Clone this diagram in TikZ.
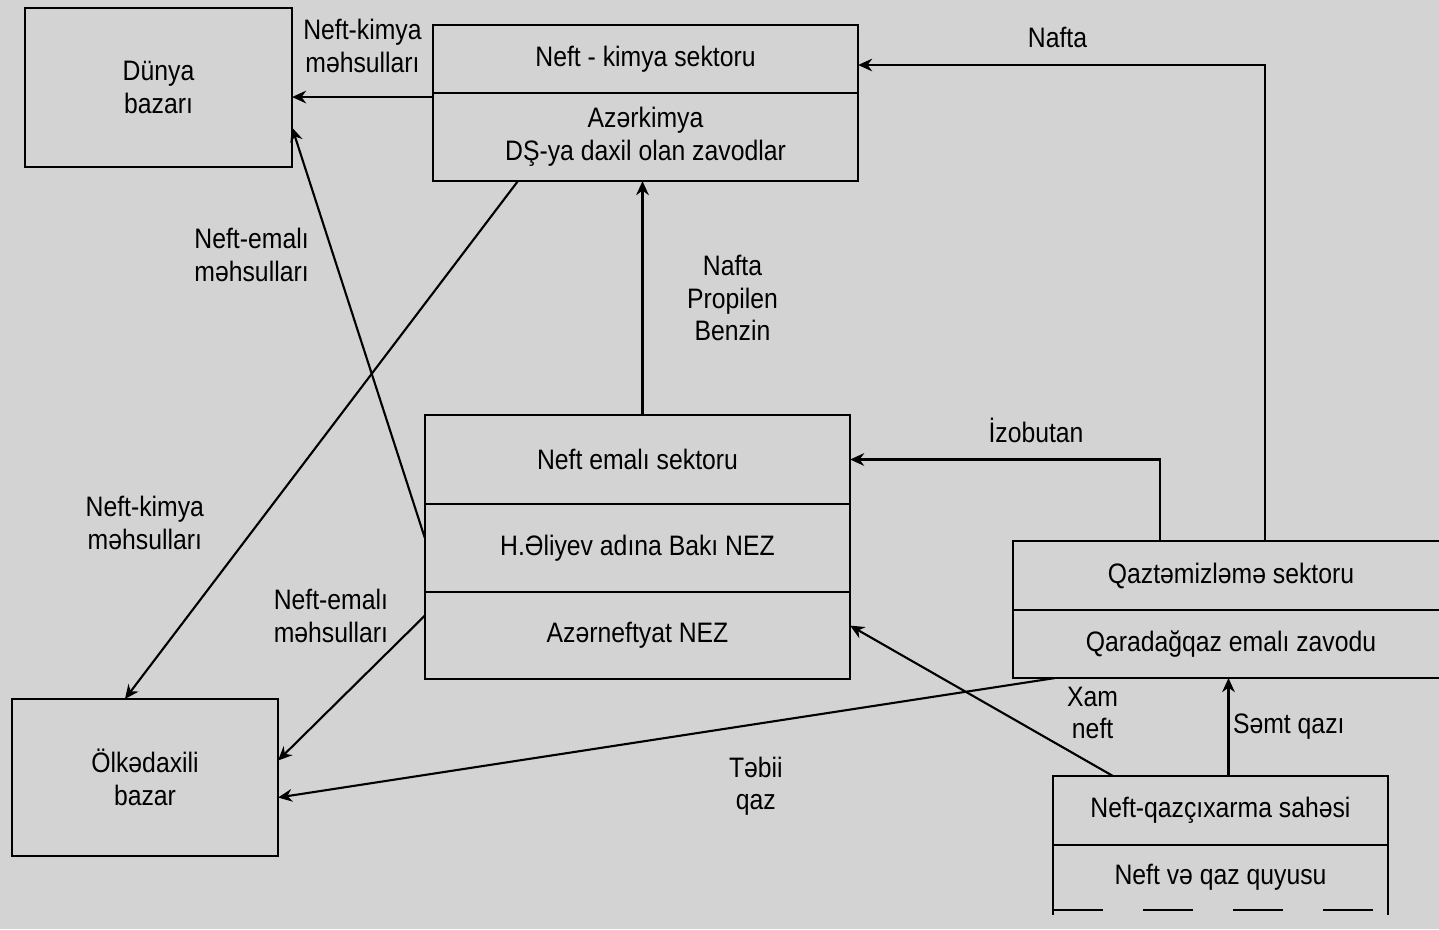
\documentclass[tikz,border=0pt]{standalone}
\usepackage{fontspec}
\setmainfont{Liberation Sans}[FakeStretch=0.88]
\usepackage{tikz}
\usetikzlibrary{arrows.meta, positioning}
\definecolor{scangray}{RGB}{211,211,211}

\begin{document}
\begin{tikzpicture}[
      x=0.01cm, y=-0.01cm,
      font=\fontsize{8}{9.3}\selectfont,
      box/.style = {draw, line width=0.7pt, outer sep=0pt, align=center},
      lbl/.style = {inner sep=1pt, align=center},
      arr/.style = {-{Stealth[length=4pt, width=3.6pt]}, semithick}
    ]
    \fill[scangray] (0,0) rectangle (1439,929);
    \useasboundingbox (0,0) rectangle (1439,929);

    % ---- markets (left) ----
    \node[box, minimum width=2.67cm, minimum height=1.59cm] (dunya) at (158.5,87.5) {Dünya\\bazarı};
    \node[box, minimum width=2.66cm, minimum height=1.57cm] (olke)  at (145,777.5)  {Ölkədaxili\\bazar};

    % ---- petrochemical sector ----
    \node[box, minimum width=4.25cm, minimum height=0.68cm] (kimya) at (645.5,59) {Neft - kimya sektoru};
    \node[box, minimum width=4.25cm, minimum height=0.88cm, below=0pt of kimya] (azerkimya)
        {Azərkimya\\DŞ-ya daxil olan zavodlar};

    % ---- refining sector ----
    \node[box, minimum width=4.25cm, minimum height=0.89cm] (emal) at (637.5,459.5) {Neft emalı sektoru};
    \node[box, minimum width=4.25cm, minimum height=0.88cm, below=0pt of emal] (baki)   {H.Əliyev adına Bakı NEZ};
    \node[box, minimum width=4.25cm, minimum height=0.87cm, below=0pt of baki] (azneft) {Azərneftyat NEZ};

    % ---- gas processing sector ----
    \node[box, minimum width=4.36cm, minimum height=0.69cm] (qaz) at (1231,575.5) {Qaztəmizləmə sektoru};
    \node[box, minimum width=4.36cm, minimum height=0.68cm, below=0pt of qaz] (qaradag) {Qaradağqaz emalı zavodu};

    % ---- production field ----
    \node[box, minimum width=3.35cm, minimum height=0.69cm] (hasil) at (1220.5,810.5) {Neft-qazçıxarma sahəsi};
    \node[box, draw=none, minimum width=3.35cm, minimum height=0.65cm, below=0pt of hasil] (quyu) {Neft və qaz quyusu};
    \draw[line width=0.7pt] (quyu.north west) -- ([yshift=-0.05cm]quyu.south west);
    \draw[line width=0.7pt] (quyu.north east) -- ([yshift=-0.05cm]quyu.south east);
    \draw[line width=0.7pt, dash pattern=on 0.5cm off 0.4cm] (quyu.south west) -- (quyu.south east);

    % ---- flows to the world market ----
    \draw[arr] ([yshift=-0.04cm]kimya.south west) -- ([yshift=-0.04cm]kimya.south west -| dunya.east)
        node[lbl, midway, above=0.2cm] {Neft-kimya\\məhsulları};
    \draw[arr] ([yshift=0.1cm]baki.west) -- ([yshift=-0.4cm]dunya.east)
        node[lbl, pos=.69, left=0.2cm] {Neft-emalı\\məhsulları};

    % ---- flows to the domestic market ----
    \draw[arr] ([xshift=0.85cm]azerkimya.south west) -- ([xshift=-0.2cm]olke.north)
        node[lbl, pos=.66, left=0.5cm] {Neft-kimya\\məhsulları};
    \draw[arr] ([yshift=0.2cm]azneft.west) -- ([yshift=0.17cm]olke.east)
        node[lbl, pos=.22, anchor=south east] {Neft-emalı\\məhsulları};
    \draw[arr] ([xshift=0.42cm]qaradag.south west) -- ([yshift=-0.2cm]olke.east)
        node[lbl, pos=.385, below=0.28cm] {Təbii\\qaz};

    % ---- feedstock flows between sectors ----
    \draw[arr] ([xshift=0.05cm]emal.north) -- ([xshift=0.05cm]emal.north |- azerkimya.south)
        node[lbl, midway, right=0.4cm] {Nafta\\Propilen\\Benzin};
    \draw[arr] ([xshift=0.34cm]qaz.north) |- ([yshift=-0.06cm]kimya.east)
        node[lbl, pos=.755, above=0.13cm] {Nafta};
    \draw[arr] ([xshift=-0.71cm]qaz.north) |- (emal.east)
        node[lbl, pos=.70, above=0.12cm] {İzobutan};
    \draw[arr] ([xshift=0.6cm]hasil.north west) -- ([yshift=0.1cm]azneft.east)
        node[lbl, pos=.42, right=0.6cm] {Xam\\neft};
    \draw[arr] ([xshift=0.08cm]hasil.north) -- ([xshift=0.08cm]hasil.north |- qaradag.south)
        node[lbl, midway, right=0pt] {Səmt qazı};

  \end{tikzpicture}
\end{document}
